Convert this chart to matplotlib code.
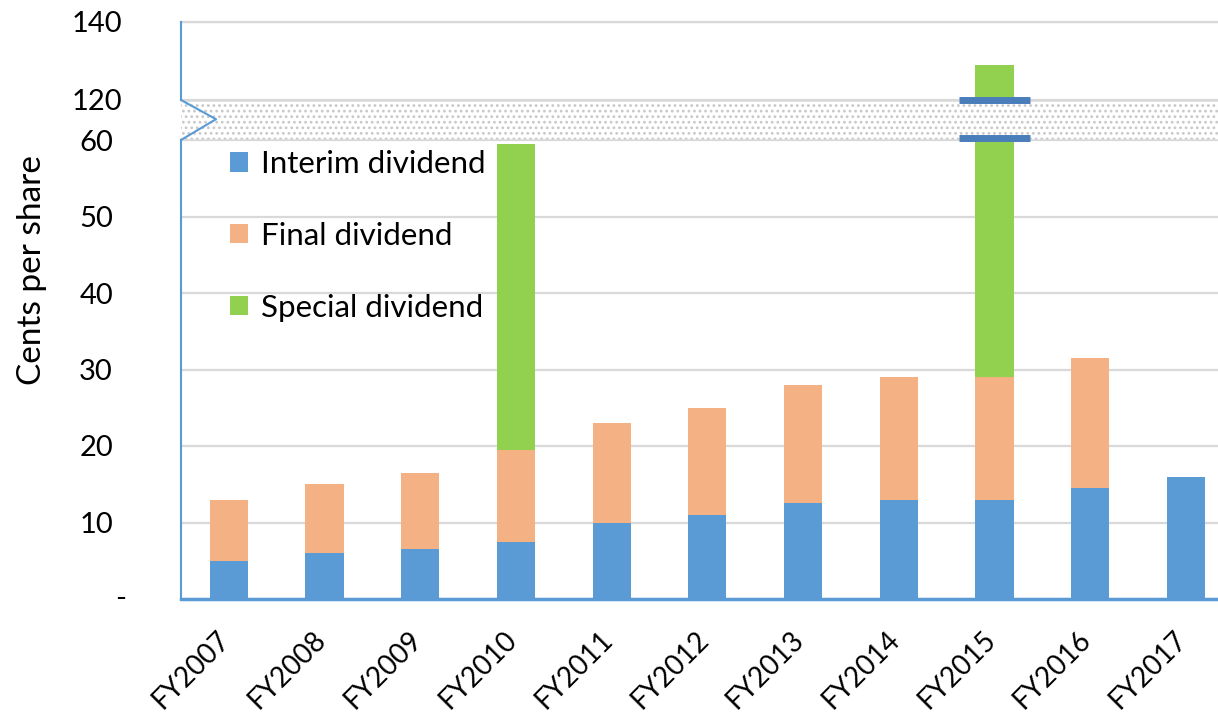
import numpy as np
import matplotlib.pyplot as plt
from matplotlib.patches import Rectangle
from matplotlib.transforms import ScaledTranslation

plt.rcParams['font.family'] = ['Lato', 'DejaVu Sans']
plt.rcParams['hatch.linewidth'] = 1.2

years = ['FY2007', 'FY2008', 'FY2009', 'FY2010', 'FY2011', 'FY2012',
         'FY2013', 'FY2014', 'FY2015', 'FY2016', 'FY2017']
interim = [5.0, 6.0, 6.5, 7.5, 10.0, 11.0, 12.5, 13.0, 13.0, 14.5, 16.0]
final = [8.0, 9.0, 10.0, 12.0, 13.0, 14.0, 15.5, 16.0, 16.0, 17.0, 0.0]
special = [0, 0, 0, 40.0, 0, 0, 0, 0, 100.0, 0, 0]

lower_ticks = [0, 10, 20, 30, 40, 50, 60]
lower_labels = ['', '10', '20', '30', '40', '50', '60']
upper_ticks = [120, 140]
upper_labels = ['120', '140']

c_int, c_fin, c_spe = '#5b9bd5', '#f4b183', '#92d050'
blue = '#5b9bd5'
grid = '#d9d9d9'
W, H = 1218, 717

fig = plt.figure(figsize=(W / 100, H / 100), dpi=100)

# pixel layout
x0, x1 = 181, 181 + 11 * 95.7
def fx(p):
    return p / W
def fy(p):
    return 1 - p / H

ax = fig.add_axes([fx(x0), fy(599), fx(x1 - x0), fy(140) - fy(599)])
axu = fig.add_axes([fx(x0), fy(100), fx(x1 - x0), fy(22) - fy(100)])
axb = fig.add_axes([fx(x0), fy(140), fx(x1 - x0), fy(100) - fy(140)])

x = np.arange(len(years))
bot2 = np.array(interim) + np.array(final)
handles = []
for a in (ax, axu):
    h1 = a.bar(x, interim, 0.4, color=c_int, lw=0, zorder=3)
    h2 = a.bar(x, final, 0.4, bottom=interim, color=c_fin, lw=0, zorder=3)
    h3 = a.bar(x, special, 0.4, bottom=bot2, color=c_spe, lw=0, zorder=3)
    if a is ax:
        handles = [h1, h2, h3]
    a.set_xlim(-0.5, 10.5)
    a.tick_params(length=0)
    a.grid(axis='y', color=grid, lw=1.6, zorder=0)
    for s in ('top', 'right'):
        a.spines[s].set_visible(False)
    a.spines['left'].set_color(blue)
    a.spines['left'].set_linewidth(1.5)

ax.set_ylim(0, 60)
ax.set_yticks(lower_ticks)
ax.set_yticklabels(lower_labels, fontsize=21)
ax.tick_params(axis='y', pad=49)
ax.text((121 - x0) / (x1 - x0), 0, '-', transform=ax.get_yaxis_transform(),
        fontsize=21, ha='center', va='center')
ax.spines['bottom'].set_color(blue)
ax.spines['bottom'].set_linewidth(2.5)
ax.set_xticks(x)
ax.set_xticklabels(years, fontsize=20, rotation=45, ha='right', va='center',
                   rotation_mode='anchor')
ax.tick_params(axis='x', pad=26)
shift = ScaledTranslation(-3 / 100, 0, fig.dpi_scale_trans)
for t in ax.get_xticklabels():
    t.set_transform(t.get_transform() + shift)
ax.set_ylabel('Cents per share', fontsize=24)
ax.yaxis.set_label_coords((47 - x0) / (x1 - x0), (599 - 270) / 459)

axu.set_ylim(120, 140)
axu.set_yticks(upper_ticks)
axu.set_yticklabels(upper_labels, fontsize=21)
axu.tick_params(axis='y', pad=42.5)
axu.set_xticks([])
axu.spines['bottom'].set_visible(False)
axu.axhline(140, color=grid, lw=1.6, clip_on=False)

# break band
axb.set_xlim(-0.5, 10.5)
axb.set_ylim(0, 1)
axb.axis('off')
axb.add_patch(Rectangle((0, 0), 1, 1, transform=axb.transAxes, facecolor='white',
                        edgecolor='#c8c8c8', hatch='...', lw=0))
axb.axhline(0, color=grid, lw=1.8)
axb.axhline(1, color=grid, lw=1.8)
zx = (216 - x0) / (x1 - x0)
axb.plot([0, zx, 0], [0, 0.52, 1], color=blue, lw=1.5, transform=axb.transAxes,
         clip_on=False)
brk = years.index('FY2015')
axb.hlines([0.05, 1.0], brk - 0.375, brk + 0.375, color='#4a7ebb', lw=5, clip_on=False,
           zorder=5)

leg = ax.legend(handles, ['Interim dividend', 'Final dividend', 'Special dividend'],
                loc='upper left', bbox_to_anchor=((230 - x0) / (x1 - x0), 1 - 10 / 459),
                frameon=False, fontsize=22.5, borderpad=0, borderaxespad=0,
                handlelength=0.58, handleheight=0.58, handletextpad=0.4,
                labelspacing=1.4)

fig.savefig('out.png', dpi=100)
